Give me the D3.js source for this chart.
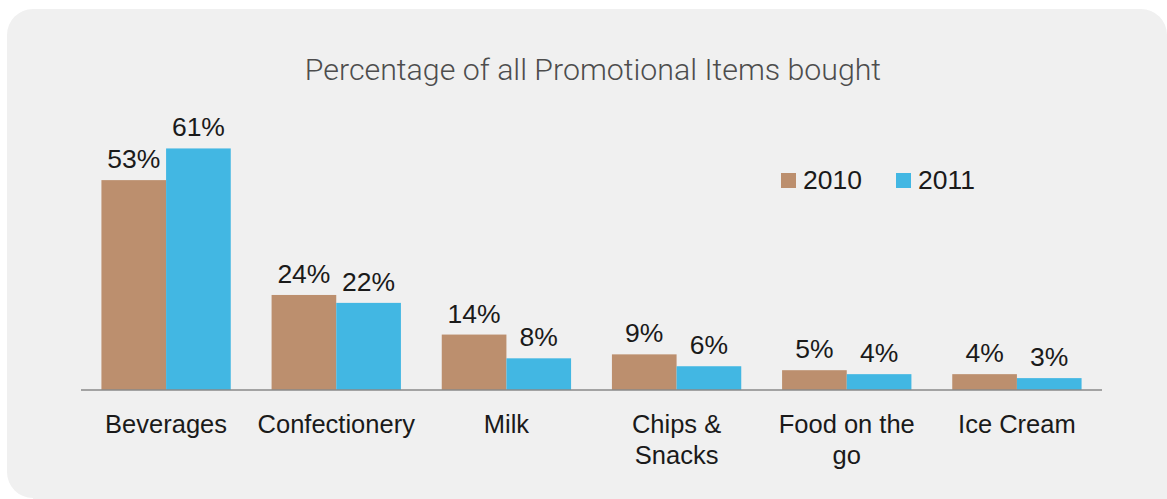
<!DOCTYPE html>
<html>
<head>
<meta charset="utf-8">
<script src="https://cdn.jsdelivr.net/npm/d3@7"></script>
<style>
  html, body { margin: 0; padding: 0; background: #ffffff; }
  svg { display: block; }
</style>
</head>
<body>
<svg id="chart" width="1167" height="499"></svg>
<script>
// Share of promotional items bought, by category and year
const categories = ["Beverages", "Confectionery", "Milk", "Chips & Snacks", "Food on the go", "Ice Cream"];
const categoryLines = [["Beverages"], ["Confectionery"], ["Milk"], ["Chips &", "Snacks"], ["Food on the", "go"], ["Ice Cream"]];
const years = ["2010", "2011"];
const values2010 = [53, 24, 14, 9, 5, 4];
const values2011 = [61, 22, 8, 6, 4, 3];
const colors = ["#bc8f6e", "#42b7e3"];

const svg = d3.select("#chart");
const W = 1167, H = 498;
const font = "'Liberation Sans', Arial, Helvetica, sans-serif";

// Panel with rounded corners (bottom-right runs off the canvas)
const px = 7, py = 9, pr = 26;
const panel = d3.path();
panel.moveTo(px + pr, py);
panel.lineTo(W - pr, py);
panel.arcTo(W, py, W, py + pr, pr);
panel.lineTo(W, H + 1);
panel.lineTo(px + pr, H + 1);
panel.lineTo(px + pr, H);
panel.arcTo(px, H, px, H - pr, pr);
panel.lineTo(px, py + pr);
panel.arcTo(px, py, px + pr, py, pr);
panel.closePath();
svg.append("path").attr("d", panel.toString()).attr("fill", "#f0f0f0");

// Title
svg.append("text")
  .attr("x", 593).attr("y", 80)
  .attr("text-anchor", "middle")
  .attr("font-family", "Roboto, 'Liberation Sans', sans-serif")
  .attr("font-weight", 300)
  .attr("font-size", 30.3)
  .attr("fill", "#4d4d4d")
  .text("Percentage of all Promotional Items bought");

// Scales
const x0 = d3.scaleBand().domain(categories).range([81, 1102]).paddingInner(0.24).paddingOuter(0.12);
const x1 = d3.scaleBand().domain(years).range([0, x0.bandwidth()]);
const y = d3.scaleLinear().domain([0, 100]).range([390, -6]);

const data = categories.map((c, i) => ({ cat: c, vals: [values2010[i], values2011[i]] }));

const groups = svg.append("g").selectAll("g").data(data).join("g")
  .attr("transform", d => `translate(${x0(d.cat)},0)`);

groups.selectAll("rect").data(d => d.vals.map((v, j) => ({ v, year: years[j], j })))
  .join("rect")
  .attr("x", d => x1(d.year))
  .attr("y", d => y(d.v))
  .attr("width", x1.bandwidth())
  .attr("height", d => y(0) - y(d.v))
  .attr("fill", d => colors[d.j]);

groups.selectAll("text.val").data(d => d.vals.map((v, j) => ({ v, year: years[j] })))
  .join("text")
  .attr("class", "val")
  .attr("x", d => x1(d.year) + x1.bandwidth() / 2)
  .attr("y", d => y(d.v) - 12)
  .attr("text-anchor", "middle")
  .attr("font-family", font)
  .attr("font-size", 26.5)
  .attr("fill", "#1a1a1a")
  .text(d => d.v + "%");

// Baseline axis
const axis = svg.append("g").attr("transform", `translate(0,${y(0)})`)
  .call(d3.axisBottom(x0).tickSize(0).tickFormat(""));
axis.select(".domain").attr("stroke", "#8a8a8a").attr("stroke-width", 1.5)
  .attr("d", "M81,0H1102");

// Category labels (wrapped)
const labels = svg.append("g").selectAll("text").data(categories).join("text")
  .attr("text-anchor", "middle")
  .attr("font-family", font)
  .attr("font-size", 25.5)
  .attr("fill", "#1a1a1a")
  .attr("x", d => x0(d) + x0.bandwidth() / 2)
  .attr("y", 433);
labels.each(function (d, i) {
  const t = d3.select(this);
  categoryLines[i].forEach((line, k) => {
    t.append("tspan")
      .attr("x", x0(d) + x0.bandwidth() / 2)
      .attr("dy", k === 0 ? 0 : 31)
      .text(line);
  });
});

// Legend
const legend = svg.append("g").selectAll("g").data(years).join("g")
  .attr("transform", (d, i) => `translate(${781 + i * 115},173)`);
legend.append("rect").attr("width", 15).attr("height", 15).attr("fill", (d, i) => colors[i]);
legend.append("text")
  .attr("x", 22).attr("y", 16)
  .attr("font-family", font)
  .attr("font-size", 26.5)
  .attr("fill", "#1a1a1a")
  .text(d => d);
</script>
</body>
</html>
